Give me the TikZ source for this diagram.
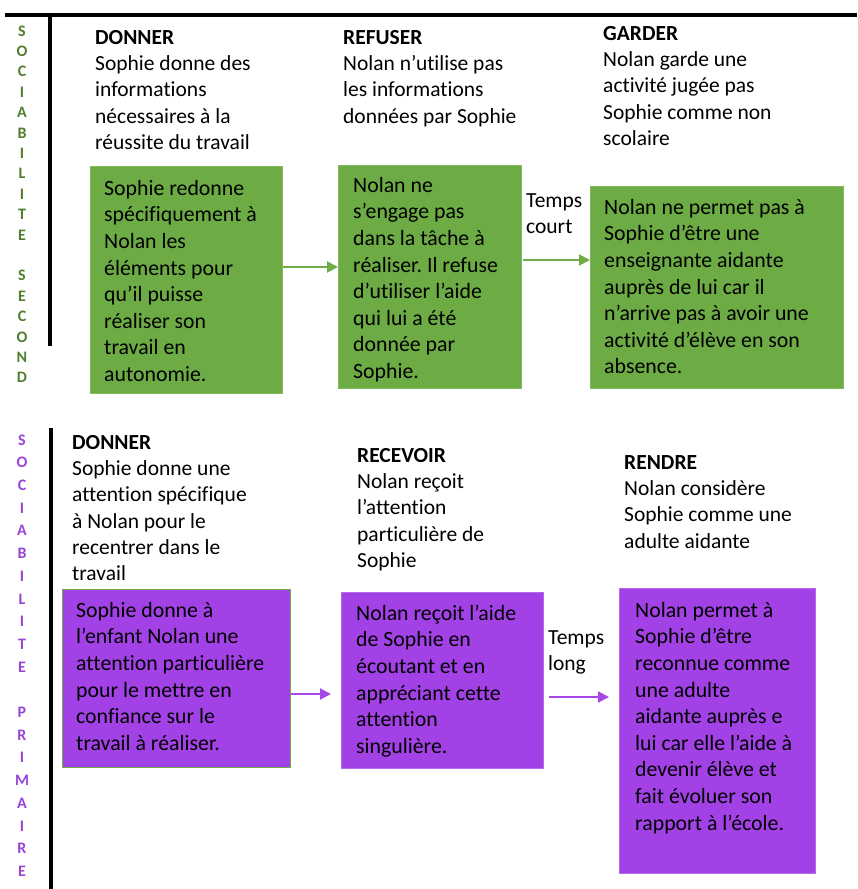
\documentclass[tikz,border=0pt]{standalone}
\usepackage{fontspec}
\setmainfont{Carlito}[Ligatures=NoCommon]
\usetikzlibrary{arrows.meta}
\definecolor{gfill}{HTML}{6DAB45}
\definecolor{gline}{HTML}{82B85E}
\definecolor{pfill}{HTML}{A242E6}
\definecolor{pline}{HTML}{B46AEB}
\definecolor{gletter}{HTML}{4F7E2E}
\definecolor{pletter}{HTML}{9844D6}
\definecolor{garrow}{HTML}{70AD47}
\definecolor{parrow}{HTML}{A648E8}
\frenchspacing
\tikzset{
  txt/.style={anchor=north west, inner sep=0pt, align=left, font=\fontsize{21.5}{26.3}\selectfont},
  btxt/.style={anchor=north west, inner sep=0pt, align=left, font=\fontsize{21.8}{26.6}\selectfont},
  box/.style={anchor=north west, inner sep=0pt, line width=0.8pt},
  gbox/.style={box, fill=gfill, draw=gline},
  pbox/.style={box, fill=pfill, draw=pline},
  garr/.style={draw=garrow, line width=2pt, -{Triangle[length=11pt,width=11pt]}},
  parr/.style={draw=parrow, line width=2pt, -{Triangle[length=11pt,width=11pt]}},
  letter/.style={font=\fontsize{16}{16}\selectfont\bfseries, inner sep=0pt},
  rule/.style={line width=4pt}
}
\begin{document}
\begin{tikzpicture}[x=1pt,y=-1pt]
\useasboundingbox (0,0) rectangle (857,889);
% black rules
\coordinate (t0) at (5,15);
\coordinate (t1) at (857,15);
\coordinate (v0) at (50,15);
\coordinate (v1) at (50,346);
\coordinate (w0) at (51,428);
\coordinate (w1) at (51,889);
\draw[rule] (t0) -- (t1);
\draw[rule] (v0) -- (v1);
\draw[rule] (w0) -- (w1);
% vertical words
\foreach \l [count=\i from 0] in {S,O,C,I,A,B,I,L,I,T,E,,S,E,C,O,N,D}
  \node[letter, text=gletter] (g\i) at (22,{31+\i*20.4}) {\l};
\foreach \l [count=\i from 0] in {S,O,C,I,A,B,I,L,I,T,E,,P,R,I,M,A,I,R,E}
  \node[letter, text=pletter] (p\i) at (22,{440+\i*22.7}) {\l};
% top headers
\node[txt] (h1) at (95,25.5) {\strut\textbf{DONNER}\\Sophie donne des\\informations\\nécessaires à la\\réussite du travail};
\node[txt] (h2) at (343,25.5) {\strut\textbf{REFUSER}\\Nolan n’utilise pas\\les informations\\données par Sophie};
\node[txt] (h3) at (603,21.5) {\strut\textbf{GARDER}\\Nolan garde une\\activité jugée pas\\Sophie comme non\\scolaire};
% bottom headers
\node[txt] (h4) at (72,430.5) {\strut\textbf{DONNER}\\Sophie donne une\\attention spécifique\\à Nolan pour le\\recentrer dans le\\travail};
\node[txt] (h5) at (357,443.5) {\strut\textbf{RECEVOIR}\\Nolan reçoit\\l’attention\\particulière de\\Sophie};
\node[txt] (h6) at (624,450.5) {\strut\textbf{RENDRE}\\Nolan considère\\Sophie comme une\\adulte aidante};
% green boxes
\node[gbox, minimum width=192pt, minimum height=227pt] (A) at (90,166) {};
\node[gbox, minimum width=183pt, minimum height=223pt] (B) at (338,165) {};
\node[gbox, minimum width=253pt, minimum height=202pt] (C) at (590,186) {};
\node[btxt] (ta) at (104,176.5) {\strut Sophie redonne\\spécifiquement à\\Nolan les\\éléments pour\\qu’il puisse\\réaliser son\\travail en\\autonomie.};
\node[btxt] (tb) at (353,173.5) {\strut Nolan ne\\s’engage pas\\dans la tâche à\\réaliser. Il refuse\\d’utiliser l’aide\\qui lui a été\\donnée par\\Sophie.};
\node[btxt] (tc) at (604,195.5) {\strut Nolan ne permet pas à\\Sophie d’être une\\enseignante aidante\\auprès de lui car il\\n’arrive pas à avoir une\\activité d’élève en son\\absence.};
% purple boxes
\node[pbox, draw=garrow, minimum width=228pt, minimum height=178pt] (D) at (62,589) {};
\node[pbox, minimum width=202pt, minimum height=176pt] (E) at (341,592) {};
\node[pbox, minimum width=196pt, minimum height=285pt] (F) at (619,588) {};
\node[btxt] (td) at (76,598.5) {\strut Sophie donne à\\l’enfant Nolan une\\attention particulière\\pour le mettre en\\confiance sur le\\travail à réaliser.};
\node[btxt] (te) at (356,601.5) {\strut Nolan reçoit l’aide\\de Sophie en\\écoutant et en\\appréciant cette\\attention\\singulière.};
\node[btxt] (tf) at (635,598.5) {\strut Nolan permet à\\Sophie d’être\\reconnue comme\\une adulte\\aidante auprès e\\lui car elle l’aide à\\devenir élève et\\fait évoluer son\\rapport à l’école.};
% time labels
\node[txt] (tcourt) at (526,188.5) {\strut Temps\\court};
\node[txt] (tlong) at (548,625.5) {\strut Temps\\long};
% arrows
\coordinate (a1s) at (A.east |- 0,267);
\coordinate (a1e) at (B.west |- 0,267);
\coordinate (a2s) at (523,260);
\coordinate (a2e) at (C.west |- 0,260);
\coordinate (a3s) at (D.east |- 0,694);
\coordinate (a3e) at (331,694);
\coordinate (a4s) at (549,697);
\coordinate (a4e) at (609,697);
\draw[garr] (a1s) -- (a1e);
\draw[garr] (a2s) -- (a2e);
\draw[parr] (a3s) -- (a3e);
\draw[parr] (a4s) -- (a4e);
\end{tikzpicture}
\end{document}
